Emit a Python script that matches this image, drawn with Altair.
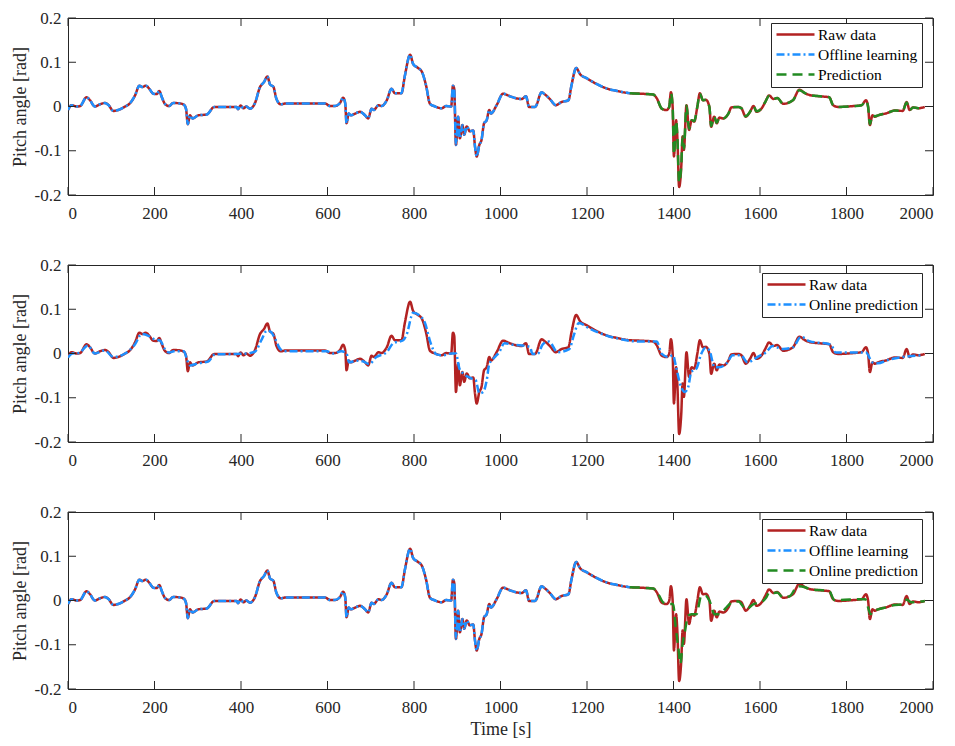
import altair as alt
import pandas as pd

# ---------------- data ----------------
raw_t = [0, 8, 20, 28, 43, 51, 62, 74, 85, 93, 105, 116, 132, 143, 155, 165, 172, 180, 188, 197,
         205, 211, 217, 224, 234, 243, 259, 268, 273, 277, 282, 288, 301, 321, 338, 390, 393, 399, 406, 412,
         421, 432, 444, 453, 461, 467, 475, 482, 492, 505, 594, 606, 617, 629, 636, 641, 644, 649, 654, 664,
         675, 687, 694, 702, 707, 718, 725, 737, 748, 756, 771, 779, 791, 798, 808, 818, 828, 837, 849, 864,
         874, 886, 890, 893, 897, 902, 906, 912, 916, 922, 929, 937, 941, 945, 951, 956, 962, 968, 974, 978,
         991, 1006, 1022, 1049, 1059, 1066, 1080, 1095, 1103, 1114, 1128, 1141, 1157, 1164, 1175, 1184, 1199, 1222, 1245, 1270,
         1299, 1322, 1353, 1361, 1373, 1384, 1390, 1394, 1398, 1401, 1406, 1409, 1413, 1418, 1421, 1424, 1430, 1436, 1442, 1448,
         1455, 1461, 1468, 1475, 1483, 1487, 1494, 1500, 1506, 1515, 1527, 1534, 1550, 1557, 1567, 1577, 1585, 1592, 1604, 1612,
         1621, 1631, 1640, 1654, 1669, 1677, 1691, 1704, 1719, 1739, 1760, 1769, 1781, 1816, 1835, 1845, 1850, 1854, 1860, 1866,
         1873, 1893, 1912, 1930, 1939, 1946, 1954, 1966, 1981]
raw_v = [-0.008, 0.003, 0.0, 0.001, 0.021, 0.014, 0.0, 0.005, 0.008, 0.004, -0.010, -0.008, 0.0, 0.007, 0.025, 0.047, 0.044, 0.047, 0.040, 0.029,
         0.028, 0.035, 0.021, 0.006, 0.001, 0.008, 0.007, 0.004, -0.006, -0.040, -0.020, -0.027, -0.020, -0.018, -0.001, -0.001, -0.006, 0.002, -0.004, 0.0,
         -0.005, 0.007, 0.044, 0.055, 0.068, 0.050, 0.044, 0.017, 0.005, 0.007, 0.007, 0.001, 0.001, 0.008, 0.020, 0.007, -0.038, -0.016, -0.020, -0.016,
         -0.012, -0.020, -0.027, -0.005, -0.008, 0.003, 0.001, 0.014, 0.040, 0.030, 0.030, 0.070, 0.117, 0.096, 0.088, 0.079, 0.047, 0.006, 0.0, -0.004,
         0.001, 0.0, 0.047, 0.040, -0.087, -0.023, -0.072, -0.042, -0.064, -0.045, -0.056, -0.054, -0.090, -0.113, -0.087, -0.076, -0.038, -0.031, -0.008, -0.016,
         0.003, 0.029, 0.023, 0.017, 0.023, -0.001, -0.001, 0.032, 0.027, 0.017, 0.003, 0.010, 0.014, 0.047, 0.087, 0.073, 0.064, 0.051, 0.041, 0.035,
         0.030, 0.029, 0.027, 0.019, -0.005, -0.008, -0.001, 0.032, 0.0, -0.113, -0.031, -0.072, -0.182, -0.135, -0.068, -0.098, 0.003, -0.053, -0.031, -0.034,
         -0.001, 0.030, 0.014, 0.015, -0.001, -0.046, -0.023, -0.038, -0.025, -0.027, -0.016, -0.002, -0.001, -0.004, -0.023, -0.012, 0.001, -0.012, -0.004, 0.010,
         0.025, 0.017, 0.019, 0.006, 0.010, 0.015, 0.038, 0.030, 0.025, 0.023, 0.021, 0.003, -0.001, 0.001, 0.003, 0.014, -0.001, -0.042, -0.020, -0.023,
         -0.020, -0.015, -0.009, -0.010, 0.010, -0.008, -0.002, -0.004, -0.001]

# offline learning follows the raw data up to this time (panels 1 and 3)
offline_end = 1299

# panel 1: prediction (green dashed)
pred1_t = [1299, 1322, 1353, 1361, 1373, 1384, 1390, 1394, 1398, 1401, 1406, 1409, 1413, 1418, 1421, 1424, 1430, 1436, 1442, 1448,
           1455, 1461, 1468, 1475, 1483, 1487, 1494, 1500, 1506, 1515, 1527, 1534, 1550, 1557, 1567, 1577, 1585, 1592, 1604, 1612,
           1621, 1631, 1640, 1654, 1669, 1677, 1691, 1704, 1719, 1739, 1760, 1769, 1781, 1816, 1835, 1845, 1850, 1854, 1860, 1866,
           1873, 1893, 1912, 1930, 1939, 1946, 1954, 1966, 1981]
pred1_v = [0.030, 0.029, 0.027, 0.019, -0.005, -0.008, -0.001, 0.030, 0.0, -0.108, -0.033, -0.070, -0.172, -0.132, -0.068, -0.095, 0.002, -0.050, -0.031, -0.033,
           -0.001, 0.029, 0.014, 0.015, -0.001, -0.044, -0.023, -0.037, -0.025, -0.027, -0.016, -0.002, -0.001, -0.004, -0.022, -0.012, 0.001, -0.011, -0.004, 0.010,
           0.024, 0.017, 0.019, 0.006, 0.010, 0.015, 0.037, 0.030, 0.025, 0.023, 0.021, 0.003, -0.001, 0.001, 0.003, 0.013, -0.001, -0.040, -0.020, -0.022,
           -0.020, -0.015, -0.009, -0.010, 0.009, -0.008, -0.002, -0.004, -0.001]

# panel 2: online prediction (blue)
online2_t = [0, 10, 25, 46, 62, 85, 105, 132, 155, 170, 186, 200, 213, 224, 234, 245, 268, 276, 282, 301,
             324, 340, 390, 412, 432, 448, 460, 470, 479, 490, 500, 598, 613, 632, 644, 650, 667, 683, 696, 713,
             737, 752, 775, 783, 798, 814, 825, 838, 852, 867, 886, 897, 905, 916, 932, 943, 951, 960, 968, 974,
             986, 997, 1009, 1028, 1068, 1074, 1086, 1098, 1112, 1132, 1159, 1170, 1181, 1204, 1235, 1266, 1320, 1361, 1373, 1388,
             1399, 1405, 1415, 1426, 1434, 1441, 1453, 1464, 1474, 1483, 1495, 1506, 1522, 1537, 1556, 1571, 1594, 1614, 1629, 1653,
             1676, 1695, 1714, 1764, 1775, 1845, 1860, 1872, 1898, 1937, 1977]
online2_v = [-0.009, 0.0, 0.001, 0.018, 0.0, 0.007, -0.008, 0.0, 0.021, 0.044, 0.040, 0.032, 0.029, 0.010, 0.002, 0.005, 0.005, -0.016, -0.027, -0.022,
             -0.018, -0.002, -0.001, 0.0, 0.004, 0.032, 0.052, 0.048, 0.033, 0.011, 0.005, 0.005, 0.0, 0.005, 0.0, -0.020, -0.016, -0.018, -0.024, -0.008,
             0.003, 0.023, 0.030, 0.043, 0.092, 0.085, 0.070, 0.025, -0.002, -0.004, 0.0, 0.0, -0.034, -0.047, -0.056, -0.061, -0.090, -0.087, -0.061, -0.024,
             -0.009, 0.003, 0.023, 0.020, 0.015, -0.001, -0.001, 0.021, 0.027, 0.003, 0.010, 0.043, 0.069, 0.057, 0.044, 0.035, 0.027, 0.027, -0.001, -0.008,
             -0.004, -0.026, -0.068, -0.087, -0.076, -0.042, -0.034, -0.001, 0.013, 0.007, -0.031, -0.031, -0.023, -0.004, -0.004, -0.020, -0.008, 0.003, 0.017, 0.010,
             0.014, 0.038, 0.028, 0.020, 0.002, 0.002, -0.020, -0.022, -0.014, -0.007, -0.004]

# panel 3: online prediction (green dashed)
online3_t = [1299, 1353, 1365, 1377, 1392, 1399, 1405, 1411, 1416, 1421, 1426, 1434, 1442, 1453, 1464, 1474, 1483, 1495, 1506, 1522,
             1537, 1550, 1568, 1585, 1600, 1614, 1622, 1631, 1640, 1653, 1669, 1687, 1704, 1714, 1760, 1772, 1843, 1856, 1860, 1873,
             1893, 1912, 1930, 1939, 1950, 1966, 1981]
online3_v = [0.030, 0.027, 0.014, -0.005, -0.008, -0.008, -0.060, -0.105, -0.143, -0.098, -0.072, -0.034, -0.031, -0.031, 0.010, 0.011, 0.0, -0.031, -0.031, -0.016,
             -0.003, -0.002, -0.020, -0.008, -0.005, 0.006, 0.019, 0.017, 0.018, 0.007, 0.010, 0.032, 0.030, 0.026, 0.021, 0.001, 0.003, -0.031, -0.024, -0.020,
             -0.015, -0.010, -0.009, 0.002, -0.004, -0.003, -0.001]

x_ticks = [0, 200, 400, 600, 800, 1000, 1200, 1400, 1600, 1800, 2000]
y_ticks = [-0.2, -0.1, 0.0, 0.1, 0.2]

# ---------------- styling ----------------
FONT = "Times New Roman, Liberation Serif, Tinos, Times, serif"
AX = "#262626"
W, H = 865, 177
RED, BLUE, GREEN = "#B22222", "#1E90FF", "#228B22"
SOLID, DASHDOT, DASHED = [1, 0], [8, 3, 2, 3], [10, 6]
TICK = 8
YTITLE = "Pitch angle [rad]"


def frame(t, v, name):
    return pd.DataFrame({"t": t, "v": v, "series": name})


raw_df = frame(raw_t, raw_v, "Raw data")
offline_df = raw_df[raw_df["t"] <= offline_end].copy()
offline_df["series"] = "Offline learning"


def panel(layers, names, colors, dashes, lx, ly, xtitle):
    leg = alt.Legend(title=None, orient="none", legendX=lx, legendY=ly,
                     symbolType="stroke", symbolSize=1444, symbolStrokeWidth=2.5,
                     clipHeight=15, rowPadding=4, labelOffset=2, padding=4,
                     labelFont=FONT, labelFontSize=15.5, labelColor="black",
                     fillColor="white", strokeColor=AX, cornerRadius=0)
    color = alt.Color("series:N", scale=alt.Scale(domain=names, range=colors), legend=leg)
    dash = alt.StrokeDash("series:N", scale=alt.Scale(domain=names, range=dashes), legend=leg)
    xs = alt.Scale(domain=[0, 2000], nice=False)
    ys = alt.Scale(domain=[-0.2, 0.2], nice=False)
    xaxis = alt.Axis(values=x_ticks, format="d", labelPadding=10, titlePadding=5,
                     labelFont=FONT, titleFont=FONT)
    yaxis = alt.Axis(values=y_ticks, labelPadding=7, titlePadding=5,
                     labelFont=FONT, titleFont=FONT,
                     labelExpr="datum.value == 0 ? '0' : (datum.value < 0 ? '-' + format(-datum.value, '.1f') : format(datum.value, '.1f'))")
    X = alt.X("t:Q", scale=xs, axis=xaxis, title=xtitle)
    Y = alt.Y("v:Q", scale=ys, axis=yaxis, title=YTITLE)

    xt = pd.DataFrame({"t": x_ticks})
    yt = pd.DataFrame({"v": y_ticks})
    tick_b = alt.Chart(xt).mark_rule(color=AX, strokeWidth=1).encode(
        x=X, y=alt.value(H), y2=alt.value(H - TICK))
    tick_t = alt.Chart(xt).mark_rule(color=AX, strokeWidth=1).encode(
        x=X, y=alt.value(0), y2=alt.value(TICK))
    tick_l = alt.Chart(yt).mark_rule(color=AX, strokeWidth=1).encode(
        y=Y, x=alt.value(0), x2=alt.value(TICK))
    tick_r = alt.Chart(yt).mark_rule(color=AX, strokeWidth=1).encode(
        y=Y, x=alt.value(W), x2=alt.value(W - TICK))

    line_layers = [
        alt.Chart(df).mark_line(strokeWidth=2.5, interpolate="monotone", clip=True).encode(
            x=X, y=Y, color=color, strokeDash=dash, detail="series:N")
        for df in layers
    ]
    return alt.layer(*line_layers, tick_b, tick_t, tick_l, tick_r).properties(width=W, height=H)


p1 = panel([raw_df, offline_df, frame(pred1_t, pred1_v, "Prediction")],
           ["Raw data", "Offline learning", "Prediction"], [RED, BLUE, GREEN],
           [SOLID, DASHDOT, DASHED], 703, 5, None)
p2 = panel([raw_df, frame(online2_t, online2_v, "Online prediction")],
           ["Raw data", "Online prediction"], [RED, BLUE],
           [SOLID, DASHDOT], 694, 8, None)
p3 = panel([raw_df, offline_df, frame(online3_t, online3_v, "Online prediction")],
           ["Raw data", "Offline learning", "Online prediction"], [RED, BLUE, GREEN],
           [SOLID, DASHDOT, DASHED], 694, 7, "Time [s]")

chart = alt.vconcat(p1, p2, p3, spacing=70, bounds="flush").resolve_scale(
    color="independent", strokeDash="independent"
).resolve_legend(
    color="independent", strokeDash="independent"
).properties(
    padding={"left": 2, "top": 0, "right": 0, "bottom": 0}
).configure_view(
    stroke=AX, strokeWidth=1
).configure_axis(
    grid=False, domain=False, ticks=False,
    labelFont=FONT, labelFontSize=17, labelColor=AX,
    titleFont=FONT, titleFontSize=18, titleColor=AX, titleFontWeight="normal"
).configure_legend(
    strokeWidth=1
)

chart.save("out.html", embed_options={"renderer": "svg", "actions": False})
